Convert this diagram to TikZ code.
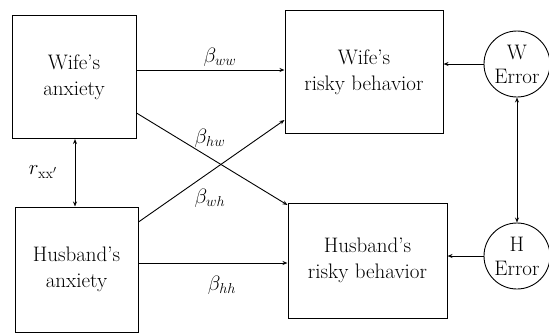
\documentclass[tikz,border=0pt]{standalone}
\usetikzlibrary{arrows.meta}
\begin{document}
\begin{tikzpicture}[x=1pt,y=-1pt,
  box/.style={draw,line width=1pt,inner sep=0pt,align=center,font=\fontsize{21}{26}\selectfont},
  err/.style={draw,circle,line width=0.9pt,minimum size=66pt,inner sep=0pt,align=center,font=\fontsize{21}{24}\selectfont},
  conn/.style={line width=0.9pt,-{Stealth[length=5pt,width=4pt,open]}},
  both/.style={line width=0.9pt,{Stealth[length=5pt,width=4pt,open]}-{Stealth[length=5pt,width=4pt,open]}},
  lbl/.style={font=\fontsize{21}{24}\selectfont}]
\useasboundingbox (0,0) rectangle (549,333);
\node[box,minimum width=124pt,minimum height=123pt] (wa) at (74,77) {Wife's\\anxiety};
\node[box,minimum width=123pt,minimum height=125pt] (ha) at (76.5,269.5) {Husband's\\anxiety};
\node[box,minimum width=158pt,minimum height=123pt] (wr) at (364,72) {Wife's\\risky behavior};
\node[box,minimum width=159pt,minimum height=115pt] (hr) at (367.5,260.5) {Husband's\\risky behavior};
\node[err] (we) at (517,64) {W\\Error};
\node[err] (he) at (517,256) {H\\Error};
\draw[conn] (wa.east |- 0,70) -- (wr.west |- 0,70);
\draw[conn] (wa.east |- 0,113) -- (hr.west |- 0,205);
\draw[conn] (ha.east |- 0,222) -- (wr.west |- 0,120);
\draw[conn] (ha.east |- 0,263) -- (hr.west |- 0,263);
\node[lbl] (bww) at (220,57) {$\beta_{ww}$};
\node[lbl] (bhw) at (210,138) {$\beta_{hw}$};
\node[lbl] (bwh) at (210,198) {$\beta_{wh}$};
\node[lbl] (bhh) at (222,285) {$\beta_{hh}$};
\draw[both] (wa.south -| 75,0) -- (ha.north -| 75,0);
\node[lbl] (rxx) at (43,172) {$r_{\mathrm{xx}'}$};
\draw[conn] (we) -- (wr.east |- we);
\draw[conn] (he) -- (hr.east |- he);
\draw[both] (we) -- (he);
\end{tikzpicture}
\end{document}
